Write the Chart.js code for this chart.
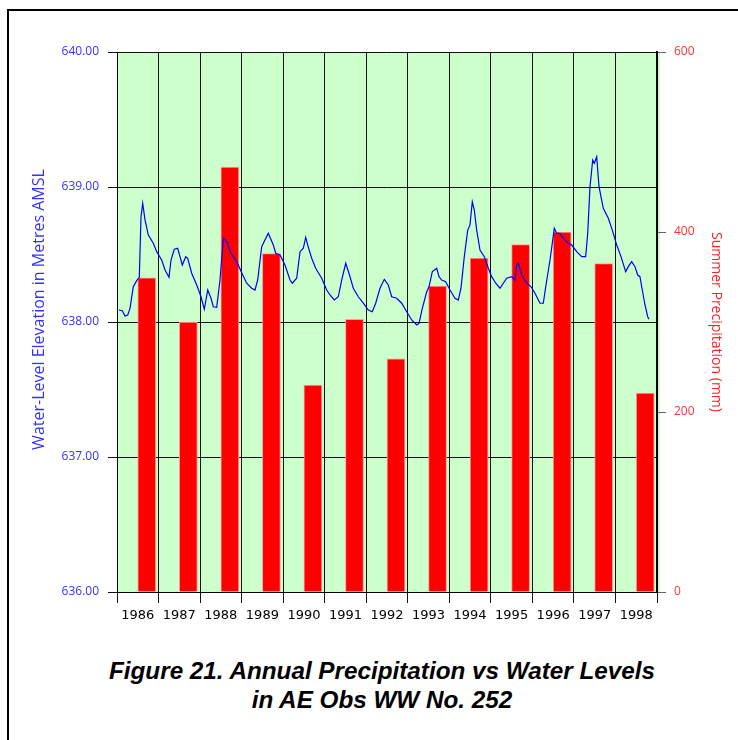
<!DOCTYPE html>
<html>
<head>
<meta charset="utf-8">
<script src="https://cdn.jsdelivr.net/npm/chart.js@4.4.0/dist/chart.umd.min.js"></script>
<style>
  body { margin: 0; background: #fff; }
  #wrap { position: relative; width: 738px; height: 740px; overflow: hidden; }
  #frame { position: absolute; left: 7px; top: 9px; width: 800px; height: 800px;
           border-left: 2px solid #000; border-top: 2px solid #000; }
  #box { position: absolute; left: 0; top: 0; width: 738px; height: 640px; }
  #title { position: absolute; left: 0; top: 657px; width: 764px; text-align: center;
           font: italic bold 23px "Liberation Sans", Arial, sans-serif; line-height: 29px;
           color: #000; transform-origin: 382px 0; white-space: nowrap; }
</style>
</head>
<body>
<div id="wrap">
  <div id="frame"></div>
  <div id="box"><canvas id="chart"></canvas></div>
  <div id="title"><span id="t1">Figure 21. Annual Precipitation vs Water Levels</span><br>in AE Obs WW No. 252</div>
</div>
<script>
// summer precipitation per year (mm)
var years = ["1986", "1987", "1988", "1989", "1990", "1991", "1992", "1993", "1994", "1995", "1996", "1997", "1998"];
var precipitation = [349, 300, 472, 376, 230, 303, 259, 340, 371, 386, 400, 365, 221];

// water level trace, decimal year -> metres AMSL
var levelYears = [
  1986.048, 1986.128, 1986.193, 1986.258, 1986.313, 1986.392, 1986.474, 1986.537, 1986.578, 1986.619,
  1986.674, 1986.754, 1986.874, 1986.956, 1987.076, 1987.156, 1987.252, 1987.300, 1987.379, 1987.461,
  1987.517, 1987.572, 1987.654, 1987.702, 1987.798, 1987.919, 1988.022, 1988.102, 1988.184, 1988.263,
  1988.318, 1988.400, 1988.480, 1988.559, 1988.641, 1988.744, 1988.882, 1989.002, 1989.122, 1989.243,
  1989.322, 1989.387, 1989.483, 1989.642, 1989.763, 1989.821, 1989.924, 1990.044, 1990.165, 1990.220,
  1990.326, 1990.406, 1990.485, 1990.543, 1990.591, 1990.687, 1990.783, 1990.928, 1991.048, 1991.128,
  1991.231, 1991.328, 1991.409, 1991.506, 1991.585, 1991.689, 1991.809, 1991.930, 1992.050, 1992.146,
  1992.228, 1992.331, 1992.435, 1992.531, 1992.613, 1992.733, 1992.854, 1992.974, 1993.095, 1993.215,
  1993.270, 1993.350, 1993.456, 1993.511, 1993.591, 1993.697, 1993.752, 1993.817, 1993.913, 1994.017,
  1994.137, 1994.216, 1994.281, 1994.361, 1994.443, 1994.498, 1994.553, 1994.601, 1994.659, 1994.739,
  1994.842, 1994.939, 1995.020, 1995.117, 1995.220, 1995.300, 1995.382, 1995.502, 1995.581, 1995.622,
  1995.661, 1995.743, 1995.839, 1995.967, 1996.063, 1996.183, 1996.263, 1996.321, 1996.424, 1996.479,
  1996.527, 1996.585, 1996.665, 1996.744, 1996.864, 1996.946, 1997.067, 1997.187, 1997.283, 1997.332,
  1997.387, 1997.452, 1997.491, 1997.548, 1997.604, 1997.707, 1997.828, 1997.924, 1998.030, 1998.133,
  1998.246, 1998.309, 1998.391, 1998.470, 1998.535, 1998.590, 1998.646, 1998.711, 1998.776, 1998.807
];
var levelValues = [
  638.089, 638.084, 638.044, 638.052, 638.101, 638.261, 638.306, 638.331, 638.780, 638.879,
  638.756, 638.644, 638.583, 638.521, 638.459, 638.385, 638.331, 638.459, 638.539, 638.546,
  638.484, 638.422, 638.484, 638.472, 638.361, 638.274, 638.187, 638.094, 638.237, 638.176,
  638.113, 638.109, 638.311, 638.620, 638.595, 638.509, 638.447, 638.365, 638.287, 638.250,
  638.237, 638.311, 638.558, 638.657, 638.570, 638.509, 638.496, 638.422, 638.311, 638.287,
  638.324, 638.521, 638.546, 638.627, 638.570, 638.472, 638.398, 638.324, 638.237, 638.200,
  638.163, 638.187, 638.311, 638.435, 638.361, 638.250, 638.187, 638.139, 638.089, 638.076,
  638.139, 638.250, 638.316, 638.274, 638.187, 638.176, 638.139, 638.076, 638.015, 637.978,
  637.990, 638.101, 638.224, 638.261, 638.373, 638.398, 638.336, 638.311, 638.299, 638.237,
  638.176, 638.163, 638.250, 638.484, 638.681, 638.719, 638.891, 638.830, 638.681, 638.533,
  638.484, 638.398, 638.336, 638.287, 638.250, 638.287, 638.324, 638.336, 638.311, 638.422,
  638.435, 638.348, 638.299, 638.261, 638.213, 638.139, 638.139, 638.261, 638.459, 638.583,
  638.694, 638.657, 638.657, 638.620, 638.583, 638.570, 638.521, 638.484, 638.484, 638.657,
  639.002, 639.200, 639.176, 639.224, 639.002, 638.842, 638.768, 638.681, 638.570, 638.484,
  638.373, 638.410, 638.447, 638.410, 638.348, 638.336, 638.237, 638.126, 638.039, 638.020
];

var levelPoints = levelYears.map(function (y, i) { return { x: y, y: levelValues[i] }; });

// squeeze the title to the narrow face of the original
var t1 = document.getElementById("t1");
document.getElementById("title").style.transform = "scaleX(" + (546 / t1.getBoundingClientRect().width) + ")";

var plotBg = {
  id: "plotBg",
  beforeDraw: function (chart) {
    var a = chart.chartArea, ctx = chart.ctx;
    ctx.save();
    ctx.fillStyle = "#ccffcc";
    ctx.fillRect(a.left, a.top, a.right - a.left + 3, a.bottom - a.top);
    ctx.restore();
  }
};

var ctx = document.getElementById("chart").getContext("2d");
new Chart(ctx, {
  data: {
    labels: years,
    datasets: [
      {
        type: "line",
        label: "Water level",
        data: levelPoints,
        xAxisID: "xt",
        yAxisID: "y",
        borderColor: "#0000ff",
        borderWidth: 1.2,
        pointRadius: 0,
        tension: 0,
        order: 0
      },
      {
        type: "bar",
        label: "Summer precipitation",
        data: precipitation,
        xAxisID: "x",
        yAxisID: "y1",
        backgroundColor: "#ff0000",
        borderColor: "#ff9a9a",
        borderWidth: 1,
        borderSkipped: "bottom",
        barThickness: 18,
        order: 1
      }
    ]
  },
  options: {
    responsive: true,
    maintainAspectRatio: false,
    animation: false,
    layout: { padding: { top: 52, left: 0, right: 0, bottom: 0 } },
    plugins: { legend: { display: false }, tooltip: { enabled: false } },
    scales: {
      x: {
        type: "category",
        position: "bottom",
        offset: true,
        grid: { offset: true, color: "#111", lineWidth: 1, tickLength: 11 },
        border: { color: "#000", width: 1 },
        ticks: { color: "#000", font: { family: "DejaVu Sans", size: 13 }, padding: 5, maxRotation: 0, autoSkip: false },
        afterFit: function (s) { s.height = 48; }
      },
      xt: { type: "linear", display: false, min: 1986, max: 1999 },
      y: {
        position: "left",
        min: 636,
        max: 640,
        ticks: {
          stepSize: 1,
          color: "#3333ff",
          padding: 9,
          font: { family: "Open Sans", size: 12 },
          callback: function (v) { return v.toFixed(2); }
        },
        grid: { color: "#111", lineWidth: 1, tickLength: 9 },
        border: { color: "#000", width: 1 },
        title: {
          display: true,
          text: "      Water-Level Elevation in Metres AMSL",
          color: "#3333ff",
          font: { family: "Open Sans", size: 16 },
          padding: { top: 30, bottom: 0 }
        },
        afterFit: function (s) { s.width = 117; }
      },
      y1: {
        position: "right",
        min: 0,
        max: 600,
        ticks: { stepSize: 200, color: "#ff3333", padding: 8, font: { family: "Open Sans", size: 12 } },
        grid: { drawOnChartArea: false, color: "#666", tickLength: 9 },
        border: { color: "#000", width: 2 },
        title: {
          display: true,
          text: "Summer Precipitation (mm)",
          color: "#ff2222",
          font: { family: "Open Sans", size: 14 },
          padding: { top: 14, bottom: 0 }
        },
        afterFit: function (s) { s.width = 81; }
      }
    }
  },
  plugins: [plotBg]
});
</script>
</body>
</html>
